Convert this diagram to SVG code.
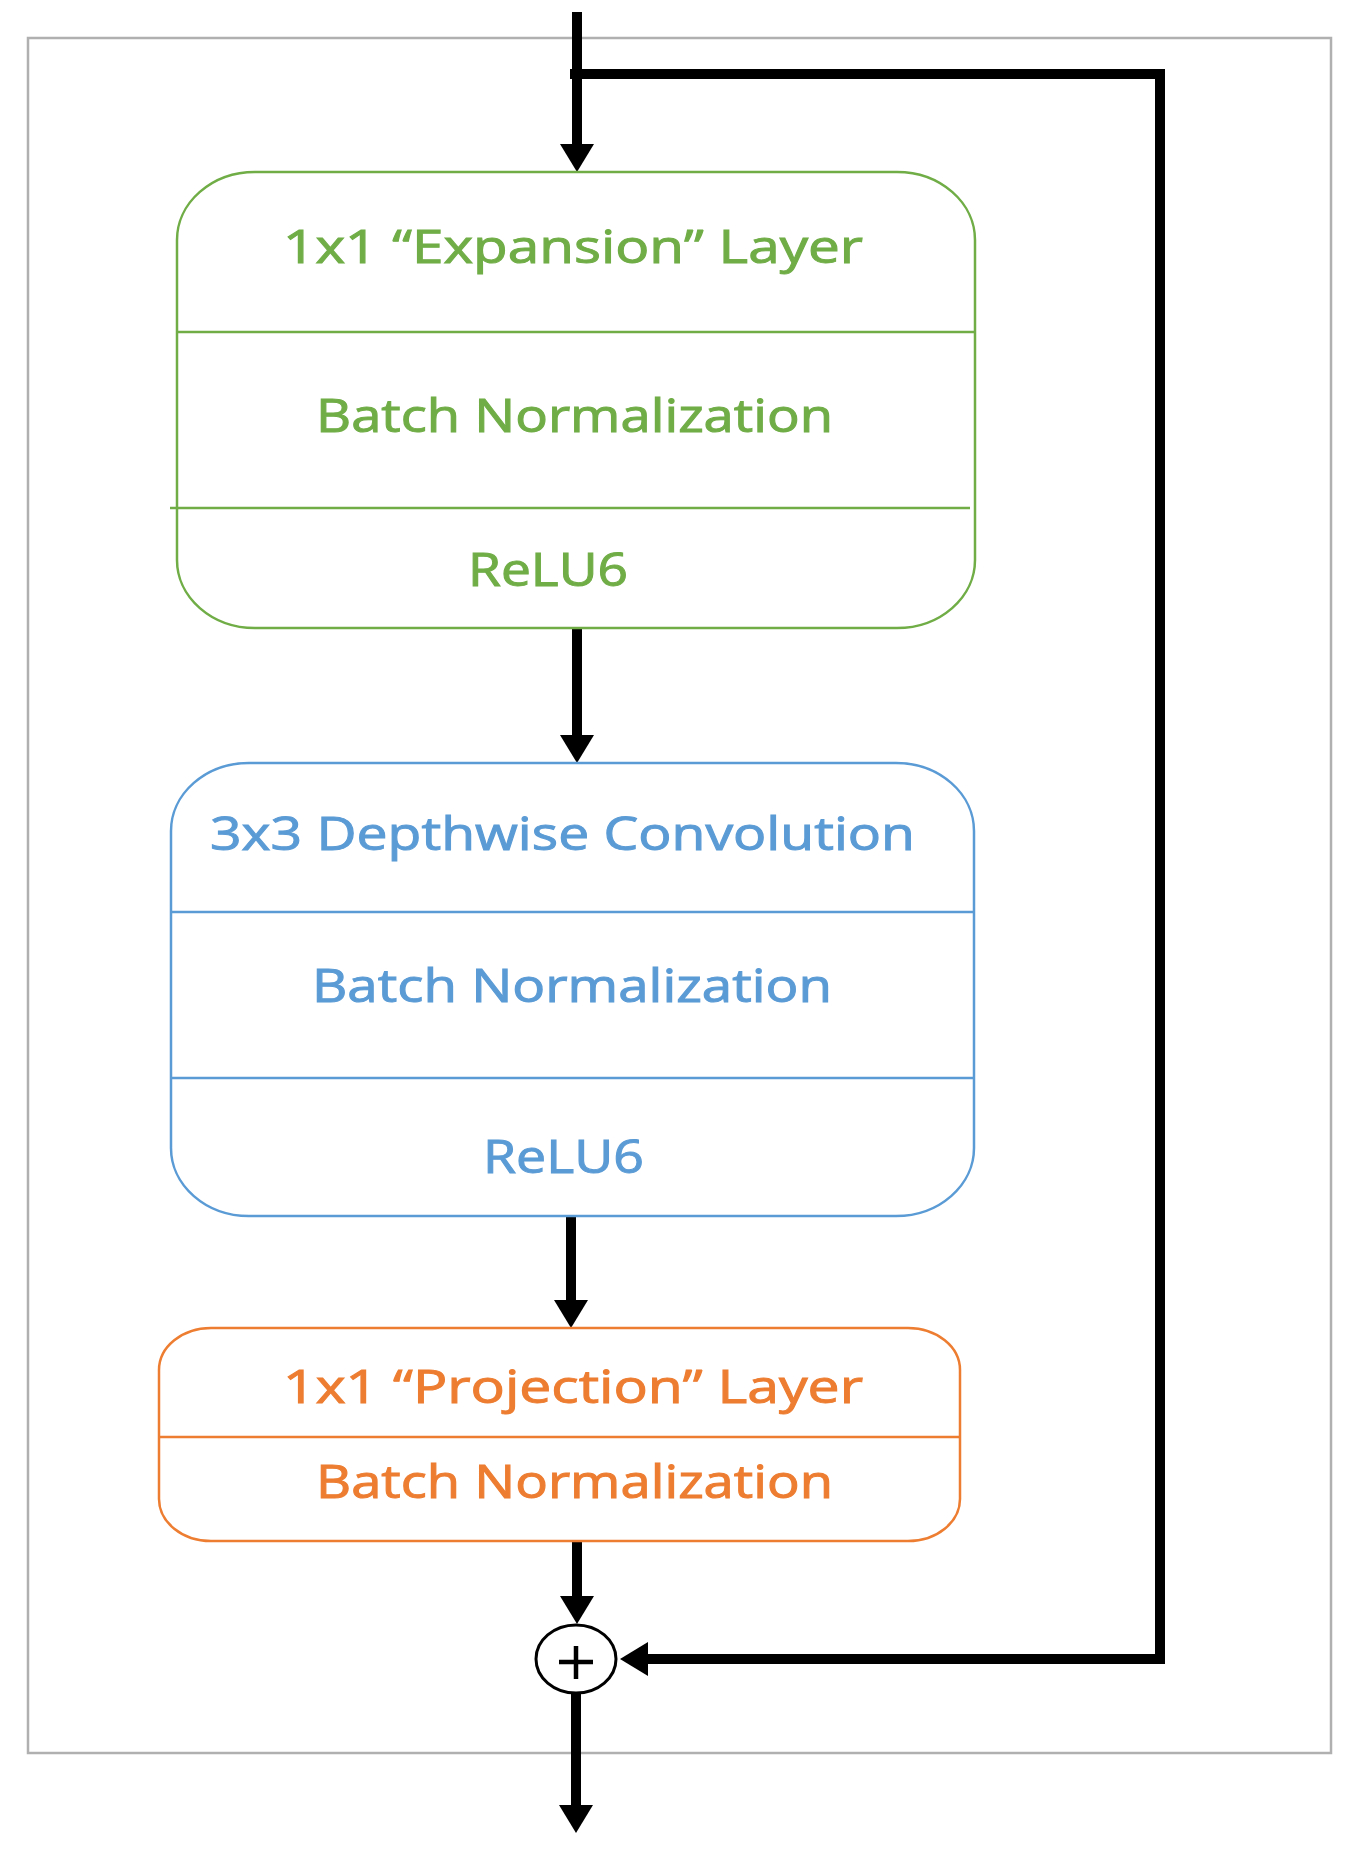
<svg xmlns="http://www.w3.org/2000/svg" width="1359" height="1849" viewBox="0 0 1359 1849">
  <defs>
    <marker id="ah" markerUnits="userSpaceOnUse" viewBox="0 -17 28 34" refX="0" refY="0" markerWidth="28" markerHeight="34" orient="auto" overflow="visible">
      <path d="M0,-17 L28,0 L0,17 Z" fill="#000"/>
    </marker>
  </defs>
  <style>
    .frame { fill: none; stroke: #B0B0B0; stroke-width: 2.5; }
    .conn { fill: none; stroke: #000; stroke-width: 10; stroke-linejoin: miter; marker-end: url(#ah); }
    .box { fill: #fff; stroke-width: 2.5; }
    .sep { stroke-width: 2.5; }
    .lbl { font-family: "Open Sans", "Noto Sans", "Liberation Sans", sans-serif; font-size: 46px; font-weight: 400; font-variant-ligatures: none; }
    .g { stroke: #70AD47; fill: #70AD47; }
    .b { stroke: #5B9BD5; fill: #5B9BD5; }
    .o { stroke: #ED7D31; fill: #ED7D31; }
    text { stroke: none; }
  </style>
  <rect width="1359" height="1849" fill="#fff"/>
  <rect class="frame" x="28" y="38" width="1303" height="1715"/>

  <g id="connectors">
    <path class="conn" d="M577,12 V144"/>
    <path class="conn" d="M570,74 H1160 V1659 H648"/>
    <path class="conn" d="M577,628 V735"/>
    <path class="conn" d="M571,1216 V1300"/>
    <path class="conn" d="M577,1541 V1596"/>
    <path class="conn" d="M576,1694 V1805"/>
  </g>

  <g id="expansion">
    <rect class="box" x="177" y="172" width="798" height="456" rx="78" ry="68" style="stroke:#70AD47"/>
    <line class="sep g" x1="177" y1="332" x2="975" y2="332"/>
    <line class="sep g" x1="170" y1="508" x2="970" y2="508"/>
    <text class="lbl g" x="283" y="263" textLength="580" lengthAdjust="spacingAndGlyphs">1x1 “Expansion” Layer</text>
    <text class="lbl g" x="316" y="432" textLength="517" lengthAdjust="spacingAndGlyphs">Batch Normalization</text>
    <text class="lbl g" x="468" y="586" textLength="160" lengthAdjust="spacingAndGlyphs">ReLU6</text>
  </g>

  <g id="depthwise">
    <rect class="box" x="171" y="763" width="803" height="453" rx="78" ry="68" style="stroke:#5B9BD5"/>
    <line class="sep b" x1="171" y1="912" x2="974" y2="912"/>
    <line class="sep b" x1="171" y1="1078" x2="974" y2="1078"/>
    <text class="lbl b" x="210" y="850" textLength="705" lengthAdjust="spacingAndGlyphs">3x3 Depthwise Convolution</text>
    <text class="lbl b" x="312" y="1002" textLength="520" lengthAdjust="spacingAndGlyphs">Batch Normalization</text>
    <text class="lbl b" x="483" y="1173" textLength="161" lengthAdjust="spacingAndGlyphs">ReLU6</text>
  </g>

  <g id="projection">
    <rect class="box" x="159" y="1328" width="801" height="213" rx="52" ry="42" style="stroke:#ED7D31"/>
    <line class="sep o" x1="159" y1="1437" x2="960" y2="1437"/>
    <text class="lbl o" x="283" y="1403" textLength="580" lengthAdjust="spacingAndGlyphs">1x1 “Projection” Layer</text>
    <text class="lbl o" x="316" y="1498" textLength="517" lengthAdjust="spacingAndGlyphs">Batch Normalization</text>
  </g>

  <g id="add">
    <ellipse cx="576" cy="1659" rx="40" ry="34" fill="#fff" stroke="#000" stroke-width="3"/>
    <path d="M559,1662 H593 M576,1646 V1679" stroke="#000" stroke-width="4.5" fill="none"/>
  </g>
</svg>
